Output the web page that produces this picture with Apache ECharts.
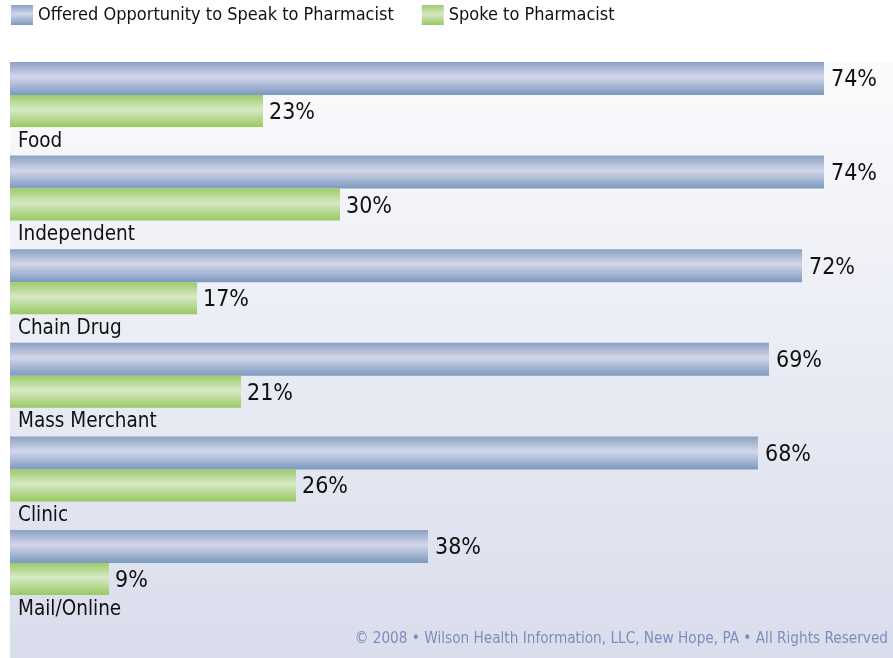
<!DOCTYPE html>
<html>
<head>
<meta charset="utf-8">
<script src="https://cdn.jsdelivr.net/npm/echarts@6/dist/echarts.min.js"></script>
<style>
html,body{margin:0;padding:0;background:#fff;}
#chart{width:893px;height:658px;}
</style>
</head>
<body>
<div id="chart"></div>
<script>
var categories = ['Food', 'Independent', 'Chain Drug', 'Mass Merchant', 'Clinic', 'Mail/Online'];
var offered = [74, 74, 72, 69, 68, 38];
var spoke = [23, 30, 17, 21, 26, 9];
var seriesNames = ['Offered Opportunity to Speak to Pharmacist', 'Spoke to Pharmacist'];
var copyright = '\u00a9 2008 \u2022 Wilson Health Information, LLC, New Hope, PA \u2022 All Rights Reserved';

var FONT = '"DejaVu Sans Condensed", "DejaVu Sans", sans-serif';

function grad(edgeTop, mid, edgeBot) {
  return new echarts.graphic.LinearGradient(0, 0, 0, 1, [
    {offset: 0, color: edgeTop},
    {offset: 0.45, color: mid},
    {offset: 1, color: edgeBot}
  ]);
}

var chart = echarts.init(document.getElementById('chart'), null, {renderer: 'canvas'});
var option = {
  animation: false,
  backgroundColor: '#ffffff',
  textStyle: {fontFamily: FONT},
  graphic: [
    {
      type: 'rect', z: -10, silent: true,
      shape: {x: 10, y: 62, width: 883, height: 596},
      style: {fill: new echarts.graphic.LinearGradient(0, 0, 0, 1, [
        {offset: 0, color: '#fbfbfd'},
        {offset: 1, color: '#d9ddec'}
      ])}
    },
    {
      type: 'text', right: 5, top: 632, silent: true,
      style: {text: copyright, fill: '#7d8dbd', font: '15.2px ' + FONT}
    }
  ],
  legend: {
    data: seriesNames,
    left: 11, top: 5, padding: 0,
    icon: 'rect', itemWidth: 22, itemHeight: 20, itemGap: 28,
    textStyle: {fontSize: 18, color: '#111', fontFamily: FONT, padding: [3, 0, 0, 0]}
  },
  grid: {left: 10, right: 3, top: 62, bottom: 34.4, containLabel: false},
  xAxis: {
    type: 'value', min: 0, max: 80,
    show: false
  },
  yAxis: {
    type: 'category', data: categories, inverse: true,
    show: false
  },
  series: [
    {
      name: seriesNames[0], type: 'bar', data: offered,
      barWidth: 33, barGap: 0,
      itemStyle: {color: grad('#8aa1c3', '#d3d6ea', '#7b99be')},
      label: {show: true, position: 'right', distance: 7, formatter: '{c}%', offset: [0, 2],
        fontSize: 23, color: '#111', fontFamily: FONT}
    },
    {
      name: seriesNames[1], type: 'bar', data: spoke,
      barWidth: 32, barGap: 0,
      itemStyle: {color: grad('#9ccc68', '#d7e8c6', '#98ca62')},
      label: {show: true, position: 'right', distance: 6, formatter: '{c}%', offset: [0, 2],
        fontSize: 23, color: '#111', fontFamily: FONT}
    },
    {
      name: 'cat', type: 'bar', data: categories.map(function(){ return 0; }),
      barWidth: 28.6, barGap: 0, silent: true,
      itemStyle: {color: 'rgba(0,0,0,0)'},
      label: {show: true, position: 'right', distance: 8,
        formatter: function(p){ return p.name; },
        fontSize: 20.5, color: '#111', fontFamily: FONT}
    }
  ]
};
chart.setOption(option);
</script>
</body>
</html>
